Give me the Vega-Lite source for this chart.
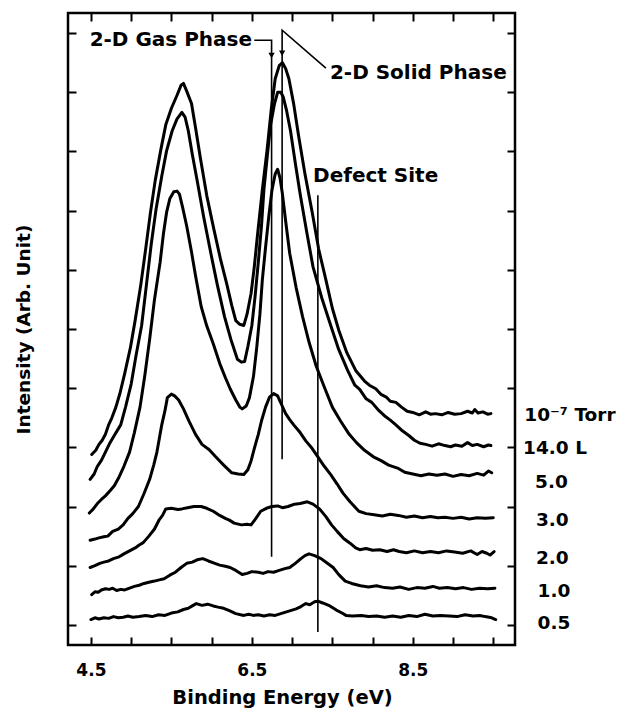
{
"$schema": "https://vega.github.io/schema/vega-lite/v6.json",
"width": 447, "height": 632,
"autosize": {"type": "none"},
"padding": {"left": 68, "top": 13, "right": 103, "bottom": 64},
"background": "white",
"config": {"view": {"stroke": "black", "strokeWidth": 2.5}, "font": "DejaVu Sans"},
"datasets": {
"spectra": [
{"curve":"1e-7 Torr","energy":4.51,"intensity":2.88},{"curve":"1e-7 Torr","energy":4.56,"intensity":2.95},{"curve":"1e-7 Torr","energy":4.60,"intensity":3.05},{"curve":"1e-7 Torr","energy":4.64,"intensity":3.12},{"curve":"1e-7 Torr","energy":4.68,"intensity":3.22},{"curve":"1e-7 Torr","energy":4.72,"intensity":3.38},{"curve":"1e-7 Torr","energy":4.76,"intensity":3.50},{"curve":"1e-7 Torr","energy":4.81,"intensity":3.68},{"curve":"1e-7 Torr","energy":4.86,"intensity":3.91},{"curve":"1e-7 Torr","energy":4.92,"intensity":4.25},{"curve":"1e-7 Torr","energy":4.99,"intensity":4.68},{"curve":"1e-7 Torr","energy":5.05,"intensity":5.15},{"curve":"1e-7 Torr","energy":5.12,"intensity":5.75},{"curve":"1e-7 Torr","energy":5.18,"intensity":6.35},{"curve":"1e-7 Torr","energy":5.24,"intensity":6.97},{"curve":"1e-7 Torr","energy":5.30,"intensity":7.52},{"curve":"1e-7 Torr","energy":5.37,"intensity":8.04},{"curve":"1e-7 Torr","energy":5.43,"intensity":8.45},{"curve":"1e-7 Torr","energy":5.50,"intensity":8.73},{"curve":"1e-7 Torr","energy":5.57,"intensity":8.95},{"curve":"1e-7 Torr","energy":5.62,"intensity":9.12},{"curve":"1e-7 Torr","energy":5.65,"intensity":9.15},{"curve":"1e-7 Torr","energy":5.69,"intensity":9.02},{"curve":"1e-7 Torr","energy":5.75,"intensity":8.81},{"curve":"1e-7 Torr","energy":5.80,"intensity":8.40},{"curve":"1e-7 Torr","energy":5.86,"intensity":7.89},{"curve":"1e-7 Torr","energy":5.94,"intensity":7.25},{"curve":"1e-7 Torr","energy":6.03,"intensity":6.67},{"curve":"1e-7 Torr","energy":6.11,"intensity":6.18},{"curve":"1e-7 Torr","energy":6.19,"intensity":5.75},{"curve":"1e-7 Torr","energy":6.25,"intensity":5.40},{"curve":"1e-7 Torr","energy":6.30,"intensity":5.14},{"curve":"1e-7 Torr","energy":6.35,"intensity":5.08},{"curve":"1e-7 Torr","energy":6.40,"intensity":5.06},{"curve":"1e-7 Torr","energy":6.44,"intensity":5.25},{"curve":"1e-7 Torr","energy":6.49,"intensity":5.60},{"curve":"1e-7 Torr","energy":6.53,"intensity":6.05},{"curve":"1e-7 Torr","energy":6.57,"intensity":6.59},{"curve":"1e-7 Torr","energy":6.63,"intensity":7.35},{"curve":"1e-7 Torr","energy":6.69,"intensity":8.04},{"curve":"1e-7 Torr","energy":6.74,"intensity":8.70},{"curve":"1e-7 Torr","energy":6.79,"intensity":9.23},{"curve":"1e-7 Torr","energy":6.84,"intensity":9.45},{"curve":"1e-7 Torr","energy":6.88,"intensity":9.50},{"curve":"1e-7 Torr","energy":6.92,"intensity":9.40},{"curve":"1e-7 Torr","energy":6.96,"intensity":9.23},{"curve":"1e-7 Torr","energy":7.02,"intensity":8.80},{"curve":"1e-7 Torr","energy":7.08,"intensity":8.27},{"curve":"1e-7 Torr","energy":7.16,"intensity":7.62},{"curve":"1e-7 Torr","energy":7.25,"intensity":6.97},{"curve":"1e-7 Torr","energy":7.33,"intensity":6.35},{"curve":"1e-7 Torr","energy":7.42,"intensity":5.83},{"curve":"1e-7 Torr","energy":7.50,"intensity":5.35},{"curve":"1e-7 Torr","energy":7.58,"intensity":4.98},{"curve":"1e-7 Torr","energy":7.68,"intensity":4.60},{"curve":"1e-7 Torr","energy":7.79,"intensity":4.30},{"curve":"1e-7 Torr","energy":7.90,"intensity":4.12},{"curve":"1e-7 Torr","energy":7.96,"intensity":4.05},{"curve":"1e-7 Torr","energy":8.04,"intensity":3.99},{"curve":"1e-7 Torr","energy":8.10,"intensity":3.90},{"curve":"1e-7 Torr","energy":8.17,"intensity":3.85},{"curve":"1e-7 Torr","energy":8.22,"intensity":3.78},{"curve":"1e-7 Torr","energy":8.29,"intensity":3.76},{"curve":"1e-7 Torr","energy":8.36,"intensity":3.68},{"curve":"1e-7 Torr","energy":8.43,"intensity":3.61},{"curve":"1e-7 Torr","energy":8.50,"intensity":3.59},{"curve":"1e-7 Torr","energy":8.58,"intensity":3.55},{"curve":"1e-7 Torr","energy":8.66,"intensity":3.60},{"curve":"1e-7 Torr","energy":8.72,"intensity":3.56},{"curve":"1e-7 Torr","energy":8.78,"intensity":3.57},{"curve":"1e-7 Torr","energy":8.86,"intensity":3.55},{"curve":"1e-7 Torr","energy":8.94,"intensity":3.59},{"curve":"1e-7 Torr","energy":9.02,"intensity":3.56},{"curve":"1e-7 Torr","energy":9.10,"intensity":3.57},{"curve":"1e-7 Torr","energy":9.18,"intensity":3.61},{"curve":"1e-7 Torr","energy":9.24,"intensity":3.58},{"curve":"1e-7 Torr","energy":9.27,"intensity":3.64},{"curve":"1e-7 Torr","energy":9.31,"intensity":3.58},{"curve":"1e-7 Torr","energy":9.37,"intensity":3.60},{"curve":"1e-7 Torr","energy":9.43,"intensity":3.56},{"curve":"1e-7 Torr","energy":9.47,"intensity":3.57},
{"curve":"14.0 L","energy":4.49,"intensity":2.46},{"curve":"14.0 L","energy":4.54,"intensity":2.55},{"curve":"14.0 L","energy":4.58,"intensity":2.68},{"curve":"14.0 L","energy":4.63,"intensity":2.78},{"curve":"14.0 L","energy":4.68,"intensity":2.92},{"curve":"14.0 L","energy":4.73,"intensity":3.06},{"curve":"14.0 L","energy":4.79,"intensity":3.20},{"curve":"14.0 L","energy":4.87,"intensity":3.38},{"curve":"14.0 L","energy":4.93,"intensity":3.68},{"curve":"14.0 L","energy":5.00,"intensity":4.07},{"curve":"14.0 L","energy":5.06,"intensity":4.55},{"curve":"14.0 L","energy":5.13,"intensity":5.06},{"curve":"14.0 L","energy":5.19,"intensity":5.75},{"curve":"14.0 L","energy":5.25,"intensity":6.44},{"curve":"14.0 L","energy":5.31,"intensity":7.03},{"curve":"14.0 L","energy":5.38,"intensity":7.58},{"curve":"14.0 L","energy":5.44,"intensity":8.01},{"curve":"14.0 L","energy":5.51,"intensity":8.35},{"curve":"14.0 L","energy":5.57,"intensity":8.55},{"curve":"14.0 L","energy":5.63,"intensity":8.66},{"curve":"14.0 L","energy":5.67,"intensity":8.58},{"curve":"14.0 L","energy":5.71,"intensity":8.35},{"curve":"14.0 L","energy":5.76,"intensity":7.95},{"curve":"14.0 L","energy":5.82,"intensity":7.51},{"curve":"14.0 L","energy":5.90,"intensity":6.90},{"curve":"14.0 L","energy":5.99,"intensity":6.28},{"curve":"14.0 L","energy":6.07,"intensity":5.75},{"curve":"14.0 L","energy":6.16,"intensity":5.21},{"curve":"14.0 L","energy":6.24,"intensity":4.82},{"curve":"14.0 L","energy":6.32,"intensity":4.49},{"curve":"14.0 L","energy":6.37,"intensity":4.44},{"curve":"14.0 L","energy":6.41,"intensity":4.45},{"curve":"14.0 L","energy":6.45,"intensity":4.70},{"curve":"14.0 L","energy":6.50,"intensity":5.06},{"curve":"14.0 L","energy":6.54,"intensity":5.55},{"curve":"14.0 L","energy":6.58,"intensity":6.13},{"curve":"14.0 L","energy":6.62,"intensity":6.75},{"curve":"14.0 L","energy":6.65,"intensity":7.36},{"curve":"14.0 L","energy":6.69,"intensity":7.90},{"curve":"14.0 L","energy":6.73,"intensity":8.43},{"curve":"14.0 L","energy":6.78,"intensity":8.80},{"curve":"14.0 L","energy":6.82,"intensity":9.00},{"curve":"14.0 L","energy":6.86,"intensity":9.00},{"curve":"14.0 L","energy":6.89,"intensity":8.92},{"curve":"14.0 L","energy":6.93,"intensity":8.70},{"curve":"14.0 L","energy":6.98,"intensity":8.35},{"curve":"14.0 L","energy":7.04,"intensity":7.80},{"curve":"14.0 L","energy":7.10,"intensity":7.28},{"curve":"14.0 L","energy":7.18,"intensity":6.65},{"curve":"14.0 L","energy":7.26,"intensity":6.05},{"curve":"14.0 L","energy":7.37,"intensity":5.52},{"curve":"14.0 L","energy":7.48,"intensity":5.06},{"curve":"14.0 L","energy":7.58,"intensity":4.65},{"curve":"14.0 L","energy":7.69,"intensity":4.30},{"curve":"14.0 L","energy":7.78,"intensity":4.05},{"curve":"14.0 L","energy":7.84,"intensity":3.98},{"curve":"14.0 L","energy":7.92,"intensity":3.82},{"curve":"14.0 L","energy":7.99,"intensity":3.76},{"curve":"14.0 L","energy":8.08,"intensity":3.62},{"curve":"14.0 L","energy":8.16,"intensity":3.52},{"curve":"14.0 L","energy":8.22,"intensity":3.46},{"curve":"14.0 L","energy":8.29,"intensity":3.38},{"curve":"14.0 L","energy":8.37,"intensity":3.28},{"curve":"14.0 L","energy":8.45,"intensity":3.20},{"curve":"14.0 L","energy":8.52,"intensity":3.12},{"curve":"14.0 L","energy":8.59,"intensity":3.07},{"curve":"14.0 L","energy":8.66,"intensity":3.05},{"curve":"14.0 L","energy":8.74,"intensity":3.02},{"curve":"14.0 L","energy":8.82,"intensity":3.06},{"curve":"14.0 L","energy":8.90,"intensity":3.03},{"curve":"14.0 L","energy":8.97,"intensity":3.01},{"curve":"14.0 L","energy":9.03,"intensity":3.04},{"curve":"14.0 L","energy":9.11,"intensity":3.02},{"curve":"14.0 L","energy":9.18,"intensity":3.08},{"curve":"14.0 L","energy":9.24,"intensity":3.03},{"curve":"14.0 L","energy":9.30,"intensity":3.05},{"curve":"14.0 L","energy":9.38,"intensity":3.01},{"curve":"14.0 L","energy":9.44,"intensity":3.04},{"curve":"14.0 L","energy":9.47,"intensity":3.03},
{"curve":"5.0","energy":4.48,"intensity":1.89},{"curve":"5.0","energy":4.53,"intensity":1.96},{"curve":"5.0","energy":4.58,"intensity":2.05},{"curve":"5.0","energy":4.63,"intensity":2.12},{"curve":"5.0","energy":4.68,"intensity":2.18},{"curve":"5.0","energy":4.74,"intensity":2.27},{"curve":"5.0","energy":4.79,"intensity":2.35},{"curve":"5.0","energy":4.85,"intensity":2.50},{"curve":"5.0","energy":4.91,"intensity":2.68},{"curve":"5.0","energy":4.98,"intensity":2.92},{"curve":"5.0","energy":5.04,"intensity":3.25},{"curve":"5.0","energy":5.11,"intensity":3.68},{"curve":"5.0","energy":5.17,"intensity":4.22},{"curve":"5.0","energy":5.23,"intensity":4.83},{"curve":"5.0","energy":5.29,"intensity":5.50},{"curve":"5.0","energy":5.36,"intensity":6.13},{"curve":"5.0","energy":5.40,"intensity":6.60},{"curve":"5.0","energy":5.44,"intensity":6.97},{"curve":"5.0","energy":5.48,"intensity":7.20},{"curve":"5.0","energy":5.53,"intensity":7.32},{"curve":"5.0","energy":5.57,"intensity":7.33},{"curve":"5.0","energy":5.60,"intensity":7.28},{"curve":"5.0","energy":5.64,"intensity":7.05},{"curve":"5.0","energy":5.69,"intensity":6.74},{"curve":"5.0","energy":5.75,"intensity":6.30},{"curve":"5.0","energy":5.80,"intensity":5.90},{"curve":"5.0","energy":5.87,"intensity":5.38},{"curve":"5.0","energy":5.94,"intensity":5.05},{"curve":"5.0","energy":6.02,"intensity":4.75},{"curve":"5.0","energy":6.10,"intensity":4.42},{"curve":"5.0","energy":6.17,"intensity":4.18},{"curve":"5.0","energy":6.23,"intensity":3.99},{"curve":"5.0","energy":6.30,"intensity":3.80},{"curve":"5.0","energy":6.35,"intensity":3.68},{"curve":"5.0","energy":6.38,"intensity":3.65},{"curve":"5.0","energy":6.43,"intensity":3.70},{"curve":"5.0","energy":6.47,"intensity":3.84},{"curve":"5.0","energy":6.52,"intensity":4.20},{"curve":"5.0","energy":6.56,"intensity":4.68},{"curve":"5.0","energy":6.60,"intensity":5.25},{"curve":"5.0","energy":6.63,"intensity":5.83},{"curve":"5.0","energy":6.67,"intensity":6.38},{"curve":"5.0","energy":6.71,"intensity":6.90},{"curve":"5.0","energy":6.75,"intensity":7.35},{"curve":"5.0","energy":6.79,"intensity":7.62},{"curve":"5.0","energy":6.82,"intensity":7.70},{"curve":"5.0","energy":6.85,"intensity":7.55},{"curve":"5.0","energy":6.88,"intensity":7.28},{"curve":"5.0","energy":6.92,"intensity":6.82},{"curve":"5.0","energy":6.97,"intensity":6.28},{"curve":"5.0","energy":7.05,"intensity":5.70},{"curve":"5.0","energy":7.13,"intensity":5.21},{"curve":"5.0","energy":7.21,"intensity":4.78},{"curve":"5.0","energy":7.30,"intensity":4.37},{"curve":"5.0","energy":7.40,"intensity":4.02},{"curve":"5.0","energy":7.50,"intensity":3.68},{"curve":"5.0","energy":7.60,"intensity":3.45},{"curve":"5.0","energy":7.71,"intensity":3.22},{"curve":"5.0","energy":7.80,"intensity":3.08},{"curve":"5.0","energy":7.90,"intensity":2.95},{"curve":"5.0","energy":8.01,"intensity":2.84},{"curve":"5.0","energy":8.10,"intensity":2.78},{"curve":"5.0","energy":8.20,"intensity":2.70},{"curve":"5.0","energy":8.31,"intensity":2.65},{"curve":"5.0","energy":8.40,"intensity":2.58},{"curve":"5.0","energy":8.50,"intensity":2.55},{"curve":"5.0","energy":8.60,"intensity":2.52},{"curve":"5.0","energy":8.70,"intensity":2.55},{"curve":"5.0","energy":8.80,"intensity":2.53},{"curve":"5.0","energy":8.90,"intensity":2.55},{"curve":"5.0","energy":9.00,"intensity":2.51},{"curve":"5.0","energy":9.10,"intensity":2.54},{"curve":"5.0","energy":9.20,"intensity":2.52},{"curve":"5.0","energy":9.30,"intensity":2.56},{"curve":"5.0","energy":9.38,"intensity":2.53},{"curve":"5.0","energy":9.44,"intensity":2.60},{"curve":"5.0","energy":9.48,"intensity":2.57},
{"curve":"3.0","energy":4.49,"intensity":1.43},{"curve":"3.0","energy":4.55,"intensity":1.45},{"curve":"3.0","energy":4.60,"intensity":1.47},{"curve":"3.0","energy":4.66,"intensity":1.49},{"curve":"3.0","energy":4.71,"intensity":1.50},{"curve":"3.0","energy":4.77,"intensity":1.58},{"curve":"3.0","energy":4.84,"intensity":1.62},{"curve":"3.0","energy":4.90,"intensity":1.69},{"curve":"3.0","energy":4.96,"intensity":1.80},{"curve":"3.0","energy":5.02,"intensity":1.88},{"curve":"3.0","energy":5.09,"intensity":2.00},{"curve":"3.0","energy":5.16,"intensity":2.22},{"curve":"3.0","energy":5.23,"intensity":2.46},{"curve":"3.0","energy":5.28,"intensity":2.70},{"curve":"3.0","energy":5.32,"intensity":2.92},{"curve":"3.0","energy":5.35,"intensity":3.15},{"curve":"3.0","energy":5.38,"intensity":3.38},{"curve":"3.0","energy":5.42,"intensity":3.62},{"curve":"3.0","energy":5.45,"intensity":3.84},{"curve":"3.0","energy":5.50,"intensity":3.90},{"curve":"3.0","energy":5.54,"intensity":3.87},{"curve":"3.0","energy":5.59,"intensity":3.80},{"curve":"3.0","energy":5.65,"intensity":3.65},{"curve":"3.0","energy":5.72,"intensity":3.44},{"curve":"3.0","energy":5.80,"intensity":3.22},{"curve":"3.0","energy":5.88,"intensity":3.05},{"curve":"3.0","energy":5.97,"intensity":2.96},{"curve":"3.0","energy":6.05,"intensity":2.84},{"curve":"3.0","energy":6.15,"intensity":2.70},{"curve":"3.0","energy":6.25,"intensity":2.57},{"curve":"3.0","energy":6.33,"intensity":2.55},{"curve":"3.0","energy":6.40,"intensity":2.54},{"curve":"3.0","energy":6.45,"intensity":2.62},{"curve":"3.0","energy":6.49,"intensity":2.77},{"curve":"3.0","energy":6.53,"intensity":2.98},{"curve":"3.0","energy":6.58,"intensity":3.22},{"curve":"3.0","energy":6.62,"intensity":3.45},{"curve":"3.0","energy":6.67,"intensity":3.68},{"curve":"3.0","energy":6.72,"intensity":3.85},{"curve":"3.0","energy":6.77,"intensity":3.91},{"curve":"3.0","energy":6.82,"intensity":3.87},{"curve":"3.0","energy":6.87,"intensity":3.72},{"curve":"3.0","energy":6.92,"intensity":3.57},{"curve":"3.0","energy":6.97,"intensity":3.47},{"curve":"3.0","energy":7.02,"intensity":3.38},{"curve":"3.0","energy":7.10,"intensity":3.25},{"curve":"3.0","energy":7.17,"intensity":3.11},{"curve":"3.0","energy":7.25,"intensity":2.98},{"curve":"3.0","energy":7.32,"intensity":2.84},{"curve":"3.0","energy":7.40,"intensity":2.68},{"curve":"3.0","energy":7.48,"intensity":2.54},{"curve":"3.0","energy":7.56,"intensity":2.38},{"curve":"3.0","energy":7.63,"intensity":2.23},{"curve":"3.0","energy":7.72,"intensity":2.08},{"curve":"3.0","energy":7.83,"intensity":1.92},{"curve":"3.0","energy":7.92,"intensity":1.88},{"curve":"3.0","energy":8.02,"intensity":1.86},{"curve":"3.0","energy":8.12,"intensity":1.84},{"curve":"3.0","energy":8.22,"intensity":1.87},{"curve":"3.0","energy":8.32,"intensity":1.85},{"curve":"3.0","energy":8.42,"intensity":1.82},{"curve":"3.0","energy":8.52,"intensity":1.84},{"curve":"3.0","energy":8.62,"intensity":1.81},{"curve":"3.0","energy":8.72,"intensity":1.83},{"curve":"3.0","energy":8.81,"intensity":1.81},{"curve":"3.0","energy":8.90,"intensity":1.82},{"curve":"3.0","energy":9.00,"intensity":1.80},{"curve":"3.0","energy":9.10,"intensity":1.82},{"curve":"3.0","energy":9.20,"intensity":1.79},{"curve":"3.0","energy":9.30,"intensity":1.81},{"curve":"3.0","energy":9.40,"intensity":1.80},{"curve":"3.0","energy":9.50,"intensity":1.81},
{"curve":"2.0","energy":4.49,"intensity":0.97},{"curve":"2.0","energy":4.55,"intensity":1.00},{"curve":"2.0","energy":4.61,"intensity":1.04},{"curve":"2.0","energy":4.66,"intensity":1.06},{"curve":"2.0","energy":4.72,"intensity":1.08},{"curve":"2.0","energy":4.78,"intensity":1.12},{"curve":"2.0","energy":4.85,"intensity":1.15},{"curve":"2.0","energy":4.91,"intensity":1.20},{"curve":"2.0","energy":4.98,"intensity":1.25},{"curve":"2.0","energy":5.05,"intensity":1.30},{"curve":"2.0","energy":5.10,"intensity":1.35},{"curve":"2.0","energy":5.15,"intensity":1.39},{"curve":"2.0","energy":5.22,"intensity":1.50},{"curve":"2.0","energy":5.29,"intensity":1.62},{"curve":"2.0","energy":5.35,"intensity":1.78},{"curve":"2.0","energy":5.39,"intensity":1.85},{"curve":"2.0","energy":5.43,"intensity":1.96},{"curve":"2.0","energy":5.50,"intensity":1.97},{"curve":"2.0","energy":5.58,"intensity":1.95},{"curve":"2.0","energy":5.63,"intensity":1.96},{"curve":"2.0","energy":5.70,"intensity":1.98},{"curve":"2.0","energy":5.78,"intensity":2.00},{"curve":"2.0","energy":5.87,"intensity":2.00},{"curve":"2.0","energy":5.94,"intensity":1.97},{"curve":"2.0","energy":6.02,"intensity":1.92},{"curve":"2.0","energy":6.10,"intensity":1.85},{"curve":"2.0","energy":6.17,"intensity":1.80},{"curve":"2.0","energy":6.22,"intensity":1.77},{"curve":"2.0","energy":6.28,"intensity":1.72},{"curve":"2.0","energy":6.37,"intensity":1.69},{"curve":"2.0","energy":6.44,"intensity":1.70},{"curve":"2.0","energy":6.49,"intensity":1.69},{"curve":"2.0","energy":6.55,"intensity":1.80},{"curve":"2.0","energy":6.61,"intensity":1.92},{"curve":"2.0","energy":6.68,"intensity":1.97},{"curve":"2.0","energy":6.75,"intensity":2.00},{"curve":"2.0","energy":6.82,"intensity":2.01},{"curve":"2.0","energy":6.88,"intensity":1.98},{"curve":"2.0","energy":6.95,"intensity":2.00},{"curve":"2.0","energy":7.03,"intensity":2.04},{"curve":"2.0","energy":7.10,"intensity":2.05},{"curve":"2.0","energy":7.19,"intensity":2.08},{"curve":"2.0","energy":7.26,"intensity":2.04},{"curve":"2.0","energy":7.34,"intensity":1.96},{"curve":"2.0","energy":7.42,"intensity":1.83},{"curve":"2.0","energy":7.49,"intensity":1.69},{"curve":"2.0","energy":7.56,"intensity":1.58},{"curve":"2.0","energy":7.64,"intensity":1.46},{"curve":"2.0","energy":7.72,"intensity":1.38},{"curve":"2.0","energy":7.79,"intensity":1.30},{"curve":"2.0","energy":7.84,"intensity":1.27},{"curve":"2.0","energy":7.92,"intensity":1.29},{"curve":"2.0","energy":8.00,"intensity":1.26},{"curve":"2.0","energy":8.09,"intensity":1.27},{"curve":"2.0","energy":8.18,"intensity":1.24},{"curve":"2.0","energy":8.26,"intensity":1.27},{"curve":"2.0","energy":8.33,"intensity":1.24},{"curve":"2.0","energy":8.42,"intensity":1.22},{"curve":"2.0","energy":8.52,"intensity":1.25},{"curve":"2.0","energy":8.62,"intensity":1.22},{"curve":"2.0","energy":8.72,"intensity":1.24},{"curve":"2.0","energy":8.82,"intensity":1.22},{"curve":"2.0","energy":8.92,"intensity":1.25},{"curve":"2.0","energy":9.02,"intensity":1.23},{"curve":"2.0","energy":9.12,"intensity":1.21},{"curve":"2.0","energy":9.22,"intensity":1.25},{"curve":"2.0","energy":9.30,"intensity":1.19},{"curve":"2.0","energy":9.36,"intensity":1.24},{"curve":"2.0","energy":9.42,"intensity":1.21},{"curve":"2.0","energy":9.46,"intensity":1.18},{"curve":"2.0","energy":9.51,"intensity":1.24},
{"curve":"1.0","energy":4.51,"intensity":0.51},{"curve":"1.0","energy":4.55,"intensity":0.56},{"curve":"1.0","energy":4.59,"intensity":0.55},{"curve":"1.0","energy":4.63,"intensity":0.59},{"curve":"1.0","energy":4.68,"intensity":0.61},{"curve":"1.0","energy":4.73,"intensity":0.60},{"curve":"1.0","energy":4.77,"intensity":0.62},{"curve":"1.0","energy":4.82,"intensity":0.58},{"curve":"1.0","energy":4.87,"intensity":0.60},{"curve":"1.0","energy":4.92,"intensity":0.59},{"curve":"1.0","energy":4.98,"intensity":0.62},{"curve":"1.0","energy":5.04,"intensity":0.65},{"curve":"1.0","energy":5.10,"intensity":0.67},{"curve":"1.0","energy":5.16,"intensity":0.70},{"curve":"1.0","energy":5.22,"intensity":0.72},{"curve":"1.0","energy":5.29,"intensity":0.74},{"curve":"1.0","energy":5.35,"intensity":0.76},{"curve":"1.0","energy":5.41,"intensity":0.78},{"curve":"1.0","energy":5.48,"intensity":0.84},{"curve":"1.0","energy":5.55,"intensity":0.89},{"curve":"1.0","energy":5.62,"intensity":0.97},{"curve":"1.0","energy":5.69,"intensity":1.04},{"curve":"1.0","energy":5.76,"intensity":1.06},{"curve":"1.0","energy":5.82,"intensity":1.10},{"curve":"1.0","energy":5.89,"intensity":1.12},{"curve":"1.0","energy":5.96,"intensity":1.08},{"curve":"1.0","energy":6.04,"intensity":1.04},{"curve":"1.0","energy":6.10,"intensity":1.01},{"curve":"1.0","energy":6.17,"intensity":0.99},{"curve":"1.0","energy":6.23,"intensity":0.97},{"curve":"1.0","energy":6.30,"intensity":0.92},{"curve":"1.0","energy":6.38,"intensity":0.85},{"curve":"1.0","energy":6.44,"intensity":0.87},{"curve":"1.0","energy":6.50,"intensity":0.90},{"curve":"1.0","energy":6.58,"intensity":0.89},{"curve":"1.0","energy":6.64,"intensity":0.87},{"curve":"1.0","energy":6.70,"intensity":0.90},{"curve":"1.0","energy":6.77,"intensity":0.89},{"curve":"1.0","energy":6.84,"intensity":0.92},{"curve":"1.0","energy":6.91,"intensity":0.95},{"curve":"1.0","energy":6.97,"intensity":0.97},{"curve":"1.0","energy":7.04,"intensity":1.04},{"curve":"1.0","energy":7.11,"intensity":1.12},{"curve":"1.0","energy":7.16,"intensity":1.17},{"curve":"1.0","energy":7.21,"intensity":1.20},{"curve":"1.0","energy":7.28,"intensity":1.17},{"curve":"1.0","energy":7.36,"intensity":1.12},{"curve":"1.0","energy":7.43,"intensity":1.05},{"curve":"1.0","energy":7.51,"intensity":0.97},{"curve":"1.0","energy":7.58,"intensity":0.85},{"curve":"1.0","energy":7.66,"intensity":0.74},{"curve":"1.0","energy":7.74,"intensity":0.70},{"curve":"1.0","energy":7.85,"intensity":0.66},{"curve":"1.0","energy":7.95,"intensity":0.64},{"curve":"1.0","energy":8.05,"intensity":0.66},{"curve":"1.0","energy":8.15,"intensity":0.63},{"curve":"1.0","energy":8.25,"intensity":0.62},{"curve":"1.0","energy":8.34,"intensity":0.64},{"curve":"1.0","energy":8.45,"intensity":0.60},{"curve":"1.0","energy":8.55,"intensity":0.63},{"curve":"1.0","energy":8.65,"intensity":0.62},{"curve":"1.0","energy":8.75,"intensity":0.65},{"curve":"1.0","energy":8.83,"intensity":0.62},{"curve":"1.0","energy":8.93,"intensity":0.63},{"curve":"1.0","energy":9.03,"intensity":0.61},{"curve":"1.0","energy":9.13,"intensity":0.63},{"curve":"1.0","energy":9.23,"intensity":0.60},{"curve":"1.0","energy":9.33,"intensity":0.62},{"curve":"1.0","energy":9.43,"intensity":0.61},{"curve":"1.0","energy":9.52,"intensity":0.62},
{"curve":"0.5","energy":4.50,"intensity":0.09},{"curve":"0.5","energy":4.55,"intensity":0.12},{"curve":"0.5","energy":4.60,"intensity":0.10},{"curve":"0.5","energy":4.66,"intensity":0.12},{"curve":"0.5","energy":4.72,"intensity":0.11},{"curve":"0.5","energy":4.78,"intensity":0.14},{"curve":"0.5","energy":4.84,"intensity":0.12},{"curve":"0.5","energy":4.90,"intensity":0.13},{"curve":"0.5","energy":4.96,"intensity":0.15},{"curve":"0.5","energy":5.02,"intensity":0.13},{"curve":"0.5","energy":5.10,"intensity":0.14},{"curve":"0.5","energy":5.18,"intensity":0.16},{"curve":"0.5","energy":5.26,"intensity":0.14},{"curve":"0.5","energy":5.34,"intensity":0.17},{"curve":"0.5","energy":5.42,"intensity":0.16},{"curve":"0.5","energy":5.50,"intensity":0.20},{"curve":"0.5","energy":5.58,"intensity":0.22},{"curve":"0.5","energy":5.65,"intensity":0.26},{"curve":"0.5","energy":5.71,"intensity":0.28},{"curve":"0.5","energy":5.77,"intensity":0.33},{"curve":"0.5","energy":5.81,"intensity":0.36},{"curve":"0.5","energy":5.88,"intensity":0.33},{"curve":"0.5","energy":5.95,"intensity":0.35},{"curve":"0.5","energy":6.02,"intensity":0.32},{"curve":"0.5","energy":6.08,"intensity":0.30},{"curve":"0.5","energy":6.15,"intensity":0.28},{"curve":"0.5","energy":6.22,"intensity":0.24},{"curve":"0.5","energy":6.30,"intensity":0.19},{"curve":"0.5","energy":6.36,"intensity":0.17},{"curve":"0.5","energy":6.40,"intensity":0.16},{"curve":"0.5","energy":6.46,"intensity":0.18},{"curve":"0.5","energy":6.52,"intensity":0.16},{"curve":"0.5","energy":6.58,"intensity":0.17},{"curve":"0.5","energy":6.65,"intensity":0.15},{"curve":"0.5","energy":6.72,"intensity":0.17},{"curve":"0.5","energy":6.79,"intensity":0.16},{"curve":"0.5","energy":6.86,"intensity":0.19},{"curve":"0.5","energy":6.93,"intensity":0.22},{"curve":"0.5","energy":6.98,"intensity":0.24},{"curve":"0.5","energy":7.05,"intensity":0.27},{"curve":"0.5","energy":7.11,"intensity":0.31},{"curve":"0.5","energy":7.17,"intensity":0.36},{"curve":"0.5","energy":7.22,"intensity":0.34},{"curve":"0.5","energy":7.28,"intensity":0.39},{"curve":"0.5","energy":7.32,"intensity":0.40},{"curve":"0.5","energy":7.38,"intensity":0.37},{"curve":"0.5","energy":7.47,"intensity":0.32},{"curve":"0.5","energy":7.55,"intensity":0.25},{"curve":"0.5","energy":7.62,"intensity":0.20},{"curve":"0.5","energy":7.67,"intensity":0.16},{"curve":"0.5","energy":7.75,"intensity":0.15},{"curve":"0.5","energy":7.86,"intensity":0.16},{"curve":"0.5","energy":7.95,"intensity":0.14},{"curve":"0.5","energy":8.05,"intensity":0.15},{"curve":"0.5","energy":8.15,"intensity":0.13},{"curve":"0.5","energy":8.25,"intensity":0.15},{"curve":"0.5","energy":8.35,"intensity":0.13},{"curve":"0.5","energy":8.45,"intensity":0.16},{"curve":"0.5","energy":8.55,"intensity":0.14},{"curve":"0.5","energy":8.65,"intensity":0.18},{"curve":"0.5","energy":8.75,"intensity":0.15},{"curve":"0.5","energy":8.84,"intensity":0.16},{"curve":"0.5","energy":8.95,"intensity":0.15},{"curve":"0.5","energy":9.05,"intensity":0.14},{"curve":"0.5","energy":9.15,"intensity":0.17},{"curve":"0.5","energy":9.25,"intensity":0.15},{"curve":"0.5","energy":9.33,"intensity":0.16},{"curve":"0.5","energy":9.40,"intensity":0.14},{"curve":"0.5","energy":9.48,"intensity":0.12},{"curve":"0.5","energy":9.53,"intensity":0.09}
],
"markers": [
{"site":"2-D gas phase","energy":6.745,"intensity":1.15,"top":9.66},
{"site":"2-D solid phase","energy":6.876,"intensity":2.8,"top":9.7},
{"site":"defect site","energy":7.32,"intensity":-0.12,"top":7.26}
],
"leaders": [
{"leader":"gas","step":1,"energy":6.53,"intensity":9.88},
{"leader":"gas","step":2,"energy":6.745,"intensity":9.88},
{"leader":"gas","step":3,"energy":6.745,"intensity":9.66},
{"leader":"solid","step":1,"energy":7.42,"intensity":9.41},
{"leader":"solid","step":2,"energy":6.876,"intensity":10.05},
{"leader":"solid","step":3,"energy":6.876,"intensity":9.7}
],
"arrows": [
{"leader":"gas","energy":6.745,"intensity":9.62},
{"leader":"solid","energy":6.876,"intensity":9.66}
],
"notes": [
{"note":"2-D Gas Phase","energy":4.484,"intensity":9.88},
{"note":"2-D Solid Phase","energy":7.47,"intensity":9.32},
{"note":"Defect Site","energy":7.26,"intensity":7.58}
],
"doses": [
{"dose":"10⁻⁷ Torr","energy":9.886,"intensity":3.55},
{"dose":"14.0 L","energy":9.87,"intensity":2.99},
{"dose":"5.0","energy":10.02,"intensity":2.42},
{"dose":"3.0","energy":10.03,"intensity":1.77},
{"dose":"2.0","energy":10.03,"intensity":1.13},
{"dose":"1.0","energy":10.05,"intensity":0.57},
{"dose":"0.5","energy":10.05,"intensity":0.03}
]
},
"layer": [
{
"data": {"name": "spectra"},
"mark": {"type": "line", "color": "black", "strokeWidth": 3, "strokeJoin": "round", "strokeCap": "round"},
"encoding": {
"x": {"field": "energy", "type": "quantitative", "scale": {"domain": [4.215, 9.77], "nice": false, "zero": false},
"axis": {"orient": "bottom", "values": [4.5,5,5.5,6,6.5,7,7.5,8,8.5,9,9.5], "labelExpr": "(datum.value == 4.5 || datum.value == 6.5 || datum.value == 8.5) ? format(datum.value, '.1f') : ''", "labelOverlap": false, "labelFlush": false, "tickSize": -8, "tickWidth": 2, "tickColor": "black", "domain": false, "grid": false, "labelFont": "DejaVu Sans", "labelFontWeight": "bold", "labelFontSize": 17, "labelColor": "black", "labelPadding": 25, "title": "Binding Energy (eV)", "titleFont": "DejaVu Sans", "titleFontWeight": "bold", "titleFontSize": 19.5, "titleColor": "black", "titleX": 214, "titleY": 58, "titleBaseline": "alphabetic", "titleAlign": "center"}},
"y": {"field": "intensity", "type": "quantitative", "scale": {"domain": [-0.34, 10.34], "nice": false, "zero": false},
"axis": {"orient": "left", "values": [0,1,2,3,4,5,6,7,8,9,10], "labels": false, "tickSize": -8, "tickWidth": 2, "tickColor": "black", "domain": false, "grid": false, "title": "Intensity (Arb. Unit)", "titleFont": "DejaVu Sans", "titleFontWeight": "bold", "titleFontSize": 18.5, "titleColor": "black", "titleX": -45, "titleY": 316, "titleAngle": -90, "titleBaseline": "middle", "titleAlign": "center"}},
"detail": {"field": "curve"}
}
},
{
"data": {"name": "markers"},
"mark": {"type": "rule", "color": "black", "strokeWidth": 1.6},
"encoding": {
"x": {"field": "energy", "type": "quantitative", "scale": {"domain": [4.215, 9.77], "nice": false, "zero": false},
"axis": {"orient": "top", "values": [4.5,5,5.5,6,6.5,7,7.5,8,8.5,9,9.5], "labels": false, "tickSize": -8, "tickWidth": 2, "tickColor": "black", "domain": false, "grid": false, "title": null}},
"y": {"field": "intensity", "type": "quantitative", "scale": {"domain": [-0.34, 10.34], "nice": false, "zero": false},
"axis": {"orient": "right", "values": [0,1,2,3,4,5,6,7,8,9,10], "labels": false, "tickSize": -8, "tickWidth": 2, "tickColor": "black", "domain": false, "grid": false, "title": null}},
"y2": {"field": "top"}
}
},
{
"data": {"name": "leaders"},
"mark": {"type": "line", "color": "black", "strokeWidth": 1.6},
"encoding": {
"x": {"field": "energy", "type": "quantitative", "scale": {"domain": [4.215, 9.77], "nice": false, "zero": false}, "axis": null},
"y": {"field": "intensity", "type": "quantitative", "scale": {"domain": [-0.34, 10.34], "nice": false, "zero": false}, "axis": null},
"detail": {"field": "leader"},
"order": {"field": "step"}
}
},
{
"data": {"name": "arrows"},
"mark": {"type": "point", "shape": "triangle-down", "filled": true, "color": "black", "size": 40, "opacity": 1},
"encoding": {
"x": {"field": "energy", "type": "quantitative", "scale": {"domain": [4.215, 9.77], "nice": false, "zero": false}, "axis": null},
"y": {"field": "intensity", "type": "quantitative", "scale": {"domain": [-0.34, 10.34], "nice": false, "zero": false}, "axis": null}
}
},
{
"data": {"name": "notes"},
"mark": {"type": "text", "font": "DejaVu Sans", "fontWeight": "bold", "fontSize": 20, "color": "black", "align": "left", "baseline": "middle"},
"encoding": {
"x": {"field": "energy", "type": "quantitative", "scale": {"domain": [4.215, 9.77], "nice": false, "zero": false}, "axis": null},
"y": {"field": "intensity", "type": "quantitative", "scale": {"domain": [-0.34, 10.34], "nice": false, "zero": false}, "axis": null},
"text": {"field": "note"}
}
},
{
"data": {"name": "doses"},
"mark": {"type": "text", "font": "DejaVu Sans", "fontWeight": "bold", "fontSize": 18.5, "color": "black", "align": "left", "baseline": "middle"},
"encoding": {
"x": {"field": "energy", "type": "quantitative", "scale": {"domain": [4.215, 9.77], "nice": false, "zero": false}, "axis": null},
"y": {"field": "intensity", "type": "quantitative", "scale": {"domain": [-0.34, 10.34], "nice": false, "zero": false}, "axis": null},
"text": {"field": "dose"}
}
}
],
"resolve": {"axis": {"x": "independent", "y": "independent"}}
}
